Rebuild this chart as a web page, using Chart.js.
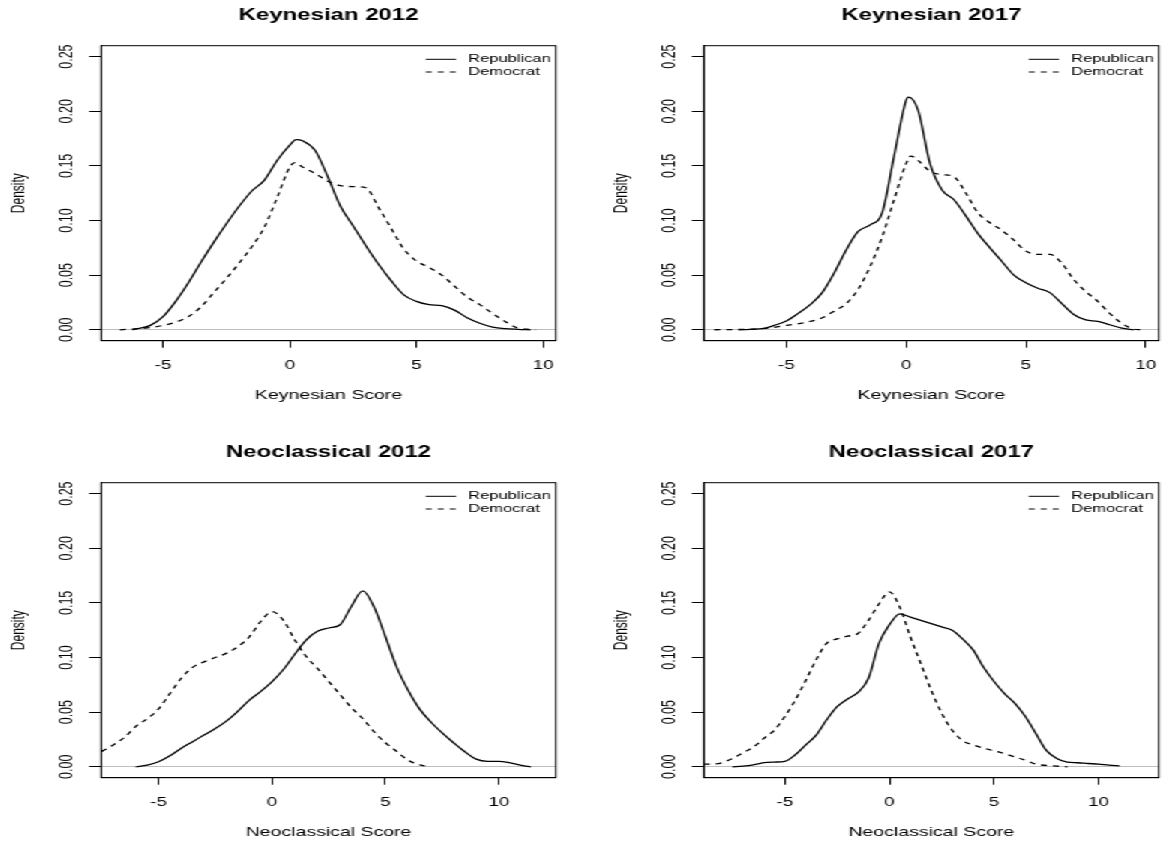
<!DOCTYPE html>
<html><head><meta charset="utf-8">
<script src="https://cdn.jsdelivr.net/npm/chart.js@4.4.1/dist/chart.umd.min.js"></script>
<style>
html,body{margin:0;padding:0;background:#fff;overflow:hidden;width:1169px;height:844px}
#wrap{position:absolute;left:0;top:0;width:779.333px;height:844px;transform:scaleX(1.5);transform-origin:0 0;}
#wrap canvas{position:absolute;}
</style></head><body>
<div id="wrap">
<canvas id="c1" style="left:0px;top:0px"></canvas>
<canvas id="c2" style="left:402px;top:0px"></canvas>
<canvas id="c3" style="left:0px;top:437px"></canvas>
<canvas id="c4" style="left:402px;top:437px"></canvas>
</div>
<script>
// ---- tick labels ----
const xTicks = [-5, 0, 5, 10];
const yTicks = [0, 0.05, 0.10, 0.15, 0.20, 0.25];
const seriesNames = ['Republican', 'Democrat'];

// ---- Keynesian 2012 ----
const k12RepX = [-6.2,-6,-5.5,-5,-4.5,-4,-3.5,-3,-2.5,-2,-1.5,-1,-0.5,0,0.25,0.5,1,1.5,2,2.5,3,3.5,4,4.5,5,5.5,6,6.5,7,7.5,8,8.5,9,9.5];
const k12RepY = [0,0.001,0.004,0.012,0.026,0.043,0.062,0.08,0.097,0.113,0.127,0.137,0.155,0.169,0.174,0.173,0.164,0.14,0.113,0.095,0.077,0.06,0.045,0.032,0.026,0.023,0.022,0.018,0.011,0.006,0.0025,0.001,0.0004,0];
const k12DemX = [-6.7,-6,-5.5,-5,-4.5,-4,-3.5,-3,-2.5,-2,-1.5,-1,-0.5,0,0.2,0.5,1,1.5,2,2.5,3,3.5,4,4.5,5,5.5,6,6.5,7,7.5,8,8.5,9,9.5,9.7];
const k12DemY = [0,0.001,0.002,0.004,0.007,0.012,0.021,0.034,0.047,0.061,0.076,0.094,0.121,0.149,0.153,0.149,0.143,0.136,0.132,0.131,0.13,0.112,0.093,0.074,0.063,0.057,0.05,0.04,0.03,0.023,0.015,0.0076,0.0015,0.0003,0];

// ---- Keynesian 2017 ----
const k17RepX = [-7,-6,-5.5,-5,-4.5,-4,-3.5,-3,-2.5,-2,-1.5,-1,-0.5,0,0.1,0.5,1,1.5,2,2.5,3,3.5,4,4.5,5,5.5,6,6.5,7,7.5,8,8.5,9,9.5];
const k17RepY = [0,0.001,0.004,0.008,0.015,0.023,0.034,0.052,0.073,0.09,0.096,0.107,0.159,0.21,0.213,0.201,0.152,0.128,0.119,0.104,0.088,0.075,0.0625,0.05,0.043,0.038,0.034,0.024,0.014,0.009,0.0076,0.0046,0.0015,0];
const k17DemX = [-8,-7,-6,-5,-4,-3.5,-3,-2.5,-2,-1.5,-1,-0.5,0,0.2,0.5,1,1.5,2,2.5,3,3.5,4,4.5,5,5.5,6,6.5,7,7.5,8,8.5,9,9.5,9.8];
const k17DemY = [0,0.0003,0.001,0.004,0.0076,0.011,0.017,0.024,0.037,0.058,0.085,0.119,0.152,0.159,0.155,0.145,0.142,0.14,0.125,0.107,0.098,0.091,0.082,0.072,0.069,0.069,0.061,0.046,0.035,0.026,0.015,0.006,0.0006,0];

// ---- Neoclassical 2012 ----
const n12RepX = [-6,-5.5,-5,-4.5,-4,-3.5,-3,-2.5,-2,-1.5,-1,-0.5,0,0.5,1,1.5,2,2.5,3,3.5,4,4.5,5,5.5,6,6.5,7,7.5,8,8.5,9,9.5,10,10.5,11,11.4];
const n12RepY = [0,0.0015,0.0046,0.010,0.017,0.023,0.029,0.035,0.042,0.051,0.061,0.069,0.078,0.089,0.103,0.116,0.124,0.127,0.130,0.147,0.161,0.146,0.119,0.091,0.07,0.053,0.041,0.031,0.022,0.0137,0.007,0.005,0.005,0.0035,0.0012,0];
const n12DemX = [-7.5,-7,-6.5,-6,-5.5,-5,-4.5,-4,-3.5,-3,-2.5,-2,-1.5,-1,-0.5,0,0.5,1,1.5,2,2.5,3,3.5,4,4.5,5,5.5,6,6.5,6.9];
const n12DemY = [0.014,0.02,0.027,0.037,0.044,0.053,0.067,0.081,0.091,0.096,0.1,0.104,0.11,0.119,0.133,0.142,0.134,0.116,0.101,0.09,0.078,0.066,0.054,0.044,0.032,0.022,0.014,0.006,0.002,0];

// ---- Neoclassical 2017 ----
const n17RepX = [-7.5,-7,-6.5,-6,-5.5,-5,-4.5,-4,-3.5,-3,-2.5,-2,-1.5,-1,-0.5,0,0.5,1,1.5,2,2.5,3,3.5,4,4.5,5,5.5,6,6.5,7,7.5,8,8.5,9,9.5,10,10.5,11];
const n17RepY = [0,0.0006,0.0018,0.0037,0.0043,0.005,0.011,0.02,0.029,0.043,0.055,0.062,0.068,0.081,0.113,0.13,0.14,0.137,0.134,0.131,0.128,0.125,0.117,0.107,0.091,0.078,0.067,0.058,0.046,0.0305,0.015,0.0076,0.0043,0.0037,0.003,0.0024,0.0015,0.0009];
const n17DemX = [-8.87,-8.5,-8,-7.5,-7,-6.5,-6,-5.5,-5,-4.5,-4,-3.5,-3,-2.5,-2,-1.5,-1,-0.5,0,0.5,1,1.5,2,2.5,3,3.5,4,4.5,5,5.5,6,6.5,7,7.5,8,8.5];
const n17DemY = [0.0024,0.0024,0.0037,0.0076,0.0128,0.018,0.026,0.0335,0.046,0.061,0.079,0.098,0.113,0.117,0.1195,0.122,0.134,0.149,0.16,0.146,0.119,0.0945,0.07,0.049,0.0335,0.024,0.02,0.017,0.0146,0.012,0.009,0.006,0.0024,0.0012,0.0006,0];

// ---- layout / style ----
const FONT = "'Liberation Sans', Arial, Helvetica, sans-serif";
const CW = 385, CH = 422;
const BOX_LEFT = 67.33, BOX_RIGHT = 370.67, BOX_BOTTOM = 340.7;

const panels = [
  {id:'c1', title:'Keynesian 2012', xlab:'Keynesian Score', xmin:-7.44, xmax:10.5, rx:k12RepX, ry:k12RepY, dx:k12DemX, dy:k12DemY},
  {id:'c2', title:'Keynesian 2017', xlab:'Keynesian Score', xmin:-8.44, xmax:10.55, rx:k17RepX, ry:k17RepY, dx:k17DemX, dy:k17DemY},
  {id:'c3', title:'Neoclassical 2012', xlab:'Neoclassical Score', xmin:-7.53, xmax:12.51, rx:n12RepX, ry:n12RepY, dx:n12DemX, dy:n12DemY},
  {id:'c4', title:'Neoclassical 2017', xlab:'Neoclassical Score', xmin:-8.87, xmax:12.88, rx:n17RepX, ry:n17RepY, dx:n17DemX, dy:n17DemY}
];

const toPts = (xs, ys) => xs.map((x, i) => ({x: x, y: ys[i]}));

const boxPlugin = {
  id: 'rBox',
  afterDraw(chart) {
    const {ctx, chartArea: a} = chart;
    ctx.save();
    ctx.strokeStyle = '#000';
    ctx.lineWidth = 1;
    ctx.setLineDash([]);
    ctx.strokeRect(a.left, a.top, a.right - a.left, a.bottom - a.top);
    ctx.restore();
  }
};

const legendPlugin = {
  id: 'rLegend',
  afterDraw(chart) {
    const {ctx, chartArea: a} = chart;
    ctx.save();
    chart.data.datasets.forEach((ds, i) => {
      const y = a.top + 13.6 + i * 12.7;
      ctx.beginPath();
      ctx.setLineDash(ds.borderDash || []);
      ctx.lineWidth = 1;
      ctx.strokeStyle = '#000';
      ctx.moveTo(a.right - 86.8, y);
      ctx.lineTo(a.right - 66.5, y);
      ctx.stroke();
      ctx.setLineDash([]);
      ctx.fillStyle = '#000';
      ctx.font = '11px ' + FONT;
      ctx.textBaseline = 'middle';
      ctx.textAlign = 'left';
      ctx.fillText(ds.label, a.right - 58.4, y);
    });
    ctx.restore();
  }
};

panels.forEach(p => {
  const el = document.getElementById(p.id);
  el.width = CW; el.height = CH;
  el.style.width = CW + 'px'; el.style.height = CH + 'px';
  new Chart(el, {
    type: 'line',
    data: {
      datasets: [
        {label: seriesNames[0], data: toPts(p.rx, p.ry), borderColor: '#000', borderWidth: 1.3,
         pointRadius: 0, cubicInterpolationMode: 'monotone', fill: false},
        {label: seriesNames[1], data: toPts(p.dx, p.dy), borderColor: '#000', borderWidth: 1.3, borderDash: [4, 4],
         pointRadius: 0, cubicInterpolationMode: 'monotone', fill: false}
      ]
    },
    options: {
      responsive: false, animation: false, devicePixelRatio: 1,
      layout: {padding: {left: 0, right: CW - BOX_RIGHT, top: 0, bottom: 0}},
      plugins: {
        legend: {display: false},
        tooltip: {enabled: false},
        title: {display: true, text: p.title, fullSize: false, color: '#000',
                font: {family: FONT, size: 16, weight: 'bold'}, padding: {top: 6.2, bottom: 20.3}}
      },
      scales: {
        x: {
          type: 'linear', position: 'bottom', min: p.xmin, max: p.xmax,
          afterBuildTicks: s => { s.ticks = xTicks.map(v => ({value: v})); },
          afterFit: s => { s.height = CH - BOX_BOTTOM; },
          grid: {drawOnChartArea: false, tickLength: 7, tickColor: '#000', color: '#000', lineWidth: 1},
          border: {display: true, color: '#000', width: 1},
          ticks: {color: '#000', font: {family: FONT, size: 12.5}, padding: 10, maxRotation: 0, autoSkip: false,
                  callback: v => String(v)},
          title: {display: true, text: p.xlab, color: '#000', font: {family: FONT, size: 13}, padding: {top: 0, bottom: 19.2}}
        },
        y: {
          type: 'linear', min: -0.01, max: 0.26,
          afterBuildTicks: s => { s.ticks = yTicks.map(v => ({value: v})); },
          afterFit: s => { s.width = BOX_LEFT; },
          grid: {color: c => (c.tick && c.tick.value === 0) ? '#bebebe' : 'rgba(0,0,0,0)',
                 tickColor: '#000', tickLength: 8, lineWidth: 1},
          border: {display: true, color: '#000', width: 1},
          ticks: {color: '#000', font: {family: FONT, size: 12.5}, padding: 2.7, minRotation: 90, maxRotation: 90,
                  crossAlign: 'center', autoSkip: false, callback: v => v.toFixed(2)},
          title: {display: true, text: 'Density', color: '#000', font: {family: FONT, size: 12}, padding: {top: 5.8, bottom: 0}}
        }
      }
    },
    plugins: [boxPlugin, legendPlugin]
  });
});
</script>
</body></html>
